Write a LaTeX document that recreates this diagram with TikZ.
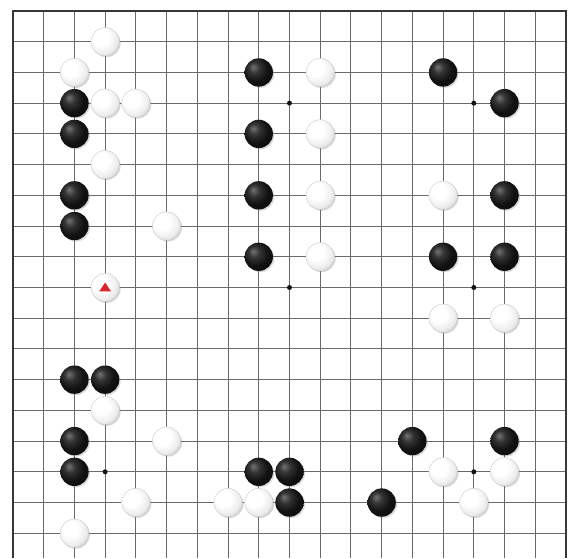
\documentclass[tikz,border=0pt]{standalone}
\usetikzlibrary{shadows}
\definecolor{GridLine}{HTML}{6A6A6A}
\definecolor{EdgeLine}{HTML}{383838}
\definecolor{StarDot}{HTML}{111111}
\definecolor{MarkRed}{HTML}{D8262A}
\pgfdeclareradialshading{whiteball}{\pgfpoint{-10bp}{10bp}}{color(0bp)=(white); color(14bp)=(white); color(26bp)=(black!7); color(36bp)=(black!20); color(46bp)=(black!36); color(60bp)=(black!50)}
\pgfdeclareradialshading{blackball}{\pgfpoint{-10bp}{10bp}}{color(0bp)=(black!55); color(10bp)=(black!80); color(22bp)=(black!93); color(60bp)=(black)}
\tikzset{
  gridline/.style={draw=GridLine,line width=0.8pt},
  edgeline/.style={draw=EdgeLine,line width=1.8pt,line join=miter},
  stardot/.style={circle,fill=StarDot,inner sep=0pt,minimum size=1.5mm},
  blackstone/.style={circle,inner sep=0pt,minimum size=8.5mm,shading=blackball,drop shadow={shadow xshift=0.4mm,shadow yshift=-0.4mm,opacity=0.3}},
  whitestone/.style={circle,inner sep=0pt,minimum size=8.5mm,shading=whiteball,draw=black!22,line width=0.3pt,drop shadow={shadow xshift=0.4mm,shadow yshift=-0.4mm,opacity=0.3}},
  trimark/.style={fill=MarkRed}
}

\begin{document}
\begin{tikzpicture}[x=9.216mm,y=-9.216mm]
  \useasboundingbox (-0.423,-0.358) rectangle (18.066,17.806);
  \fill[white] (-0.423,-0.358) rectangle (18.066,17.806);
  \foreach \c in {1,...,17} \draw[gridline] (\c,0) -- (\c,17.806);
  \foreach \r in {1,...,17} \draw[gridline] (0,\r) -- (18,\r);
  \draw[edgeline] (0,17.806) -- (0,0) -- (18,0) -- (18,17.806);
  \foreach \c/\r in {3/3,9/3,15/3,3/9,9/9,15/9,3/15,9/15,15/15}
    \node[stardot] (s-\c-\r) at (\c,\r) {};
  \foreach \c/\r in {2/3,2/4,2/6,2/7,2/12,3/12,2/14,2/15,8/2,8/4,8/6,8/8,14/2,16/3,16/6,14/8,16/8,8/15,9/15,9/16,12/16,13/14,16/14}
    \node[blackstone] (b-\c-\r) at (\c,\r) {};
  \foreach \c/\r in {3/1,2/2,3/3,4/3,3/5,5/7,3/9,3/13,5/14,4/16,2/17,10/2,10/4,10/6,10/8,14/6,14/10,16/10,7/16,8/16,14/15,16/15,15/16}
    \node[whitestone] (w-\c-\r) at (\c,\r) {};
  \fill[trimark] (w-3-9) ++(-0.195,0.13) -- ++(0.39,0) -- ++(-0.195,-0.29) -- cycle;
\end{tikzpicture}
\end{document}
